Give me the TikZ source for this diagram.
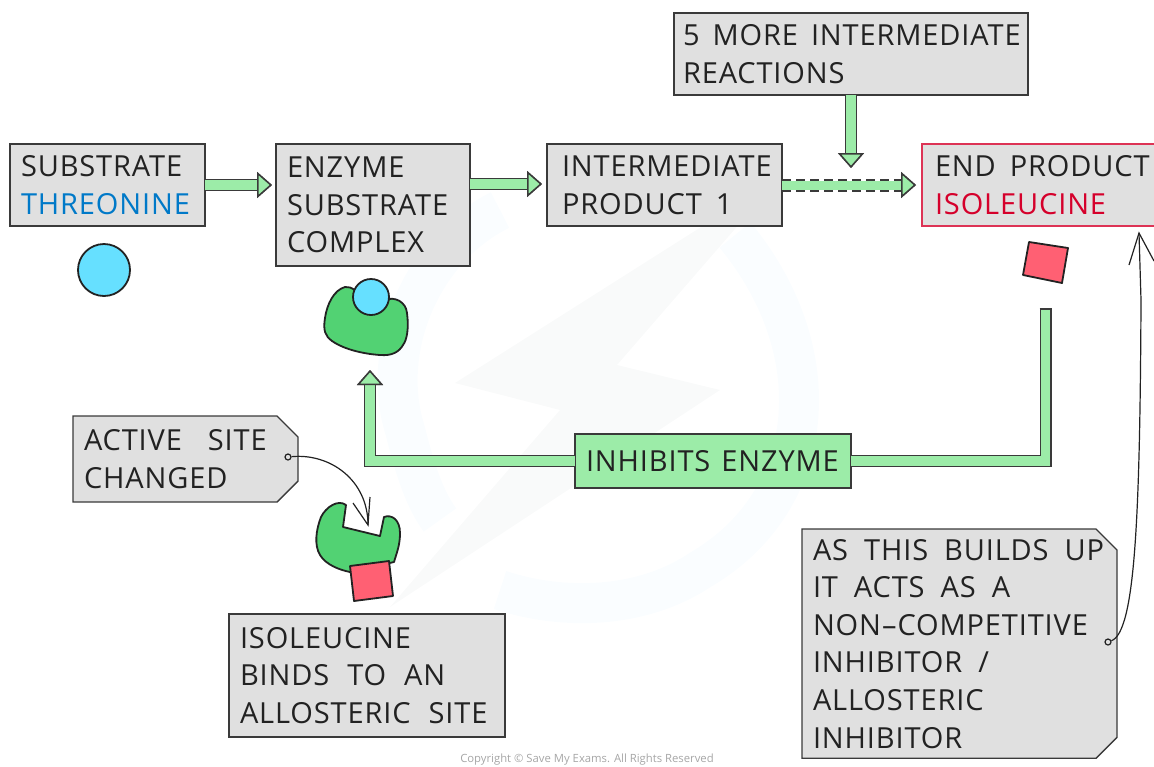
\documentclass[tikz,border=0pt]{standalone}
\usepackage{fontspec}
\usetikzlibrary{arrows.meta,shapes.misc}
\setmainfont{Open Sans}[Scale=1,LetterSpace=3]
\newfontfamily\footfont{Open Sans}
\definecolor{boxgrey}{HTML}{E0E0E0}
\definecolor{boxline}{HTML}{3A3A3A}
\definecolor{arrowgreen}{HTML}{9CECA8}
\definecolor{blobgreen}{HTML}{52D273}
\definecolor{subcyan}{HTML}{66E0FF}
\definecolor{inhred}{HTML}{FF6073}
\definecolor{txtblue}{HTML}{0079C8}
\definecolor{txtred}{HTML}{D5002B}
\definecolor{ink}{HTML}{222222}
\definecolor{wmring}{HTML}{FAFDFF}
\definecolor{wmbolt}{HTML}{F9FAFA}
\tikzset{
  x=1pt,y=-1pt,
  lbl/.style={font=\fontsize{29}{37.6}\selectfont,text=ink,align=left,anchor=north west,inner sep=0pt,outer sep=0pt,execute at begin node={\hyphenpenalty=10000\relax\tolerance=10000\relax\hfuzz=100pt\relax\spaceskip=20pt\relax}},
  greybox/.style={lbl,draw=boxline,line width=1.4pt,fill=boxgrey,rectangle,inner xsep=11pt},
  tagbox/.style={greybox,chamfered rectangle,chamfered rectangle corners={north east,south east},chamfered rectangle xsep=11pt,chamfered rectangle ysep=10pt,inner xsep=0pt},
  blockarrow/.style={draw=arrowgreen,line width=9.5pt,
     preaction={draw=boxline,line width=12pt},
     -{Triangle[length=15pt,width=26pt,fill=arrowgreen,color=boxline,line width=1.5pt]}},
  blob/.style={draw=ink,line width=1.8pt,fill=blobgreen,line join=round},
  ball/.style={circle,draw=ink,line width=1.8pt,fill=subcyan,inner sep=0pt},
  inhibitor/.style={draw=ink,line width=1.8pt,fill=inhred,line join=round},
  pin/.style={circle,draw=ink,line width=1.2pt,inner sep=0pt,minimum size=6pt},
  callout/.style={draw=ink,line width=1.2pt,line join=miter},
}
\begin{document}
\begin{tikzpicture}
\useasboundingbox (0,0) rectangle (1154,766);
\clip (0,0) rectangle (1154,766);
% watermark
\draw[wmring,line width=40pt] (735,235) .. controls (830,350) and (820,500) .. (700,570) .. controls (640,610) and (560,610) .. (500,590);
\draw[wmring,line width=40pt] (500,210) .. controls (420,250) and (380,350) .. (405,430) .. controls (415,470) and (425,500) .. (440,520);
\fill[wmbolt] (455,383) -- (780,177) -- (617,365) -- (720,390) -- (390,607) -- (560,410) -- cycle;
% boxes
\node[greybox,minimum width=195pt,minimum height=82pt,text width=173pt] (sub) at (10,144) {SUBSTRATE\\\textcolor{txtblue}{THREONINE}};
\node[greybox,minimum width=194pt,minimum height=122pt,text width=172pt] (esc) at (276,144) {ENZYME\\SUBSTRATE\\COMPLEX};
\node[greybox,minimum width=235pt,minimum height=82pt,text width=205pt,inner xsep=15pt] (int) at (547,144) {\spaceskip=14pt\relax INTERMEDIATE\\PRODUCT 1};
\node[greybox,minimum width=354pt,minimum height=82pt,text width=336pt,inner xsep=9pt] (more) at (674,13) {\spaceskip=13pt\relax 5 MORE INTERMEDIATE\\REACTIONS};
\node[greybox,draw=txtred!80,minimum width=245pt,minimum height=82pt,text width=219pt,inner xsep=13pt] (endp) at (922,144) {\spaceskip=14pt\relax END PRODUCT\\\textcolor{txtred}{ISOLEUCINE}};
\node[greybox,fill=arrowgreen,minimum width=276pt,minimum height=54pt,text width=254pt] (inh) at (575,434) {\spaceskip=11pt\relax INHIBITS ENZYME};
\node[tagbox,minimum width=225pt,minimum height=86pt,text width=203pt] (act) at (73,416) {\spaceskip=26pt\relax ACTIVE SITE\\CHANGED};
\node[greybox,minimum width=276pt,minimum height=123pt,text width=254pt] (iso) at (229,614) {\spaceskip=18pt\relax ISOLEUCINE\\BINDS TO AN\\ALLOSTERIC SITE};
\node[tagbox,minimum width=315pt,minimum height=227pt,text width=293pt] (build) at (802,529) {\spaceskip=16pt\relax AS THIS BUILDS UP\\IT ACTS AS A\\NON{\kern1pt}–{\kern1pt}COMPETITIVE\\INHIBITOR /\\ALLOSTERIC\\INHIBITOR};
% molecules
\node[ball,minimum size=52pt] (thr) at (104,270) {};
\draw[blob] (345,287) .. controls (352,286) and (358,292) .. (362,300) -- (385,300)
  .. controls (395,296) and (406,302) .. (407,313) .. controls (409,328) and (407,340) .. (403,345)
  .. controls (399,352) and (392,356) .. (380,355) .. controls (365,354) and (345,350) .. (332,341)
  .. controls (325,336) and (323,330) .. (325,318) .. controls (327,304) and (334,290) .. (345,287) -- cycle;
\node[ball,minimum size=36pt] (thr2) at (371,297) {};
\draw[blob] (343,527) -- (380,536) -- (384,517) .. controls (392,514) and (400,520) .. (400,533)
  .. controls (400,545) and (397,552) .. (394,562) -- (350,572)
  .. controls (340,570) and (326,565) .. (320,555) .. controls (314,545) and (316,530) .. (321,517)
  .. controls (326,507) and (338,499) .. (346,505) -- cycle;
\draw[inhibitor] (350,566) -- (389,561) -- (393,596) -- (354,601) -- cycle;
\draw[inhibitor] (1029,242) -- (1068,248) -- (1062,283) -- (1023,275) -- cycle;
% block arrows
\coordinate (a1) at (272,185);
\coordinate (a2) at (542,184);
\coordinate (a3) at (916,185);
\coordinate (a4) at (851,168);
\coordinate (a5) at (1045.5,309);
\coordinate (a6) at (1045.5,461);
\coordinate (a7) at (370,461);
\coordinate (a8) at (370,370);
\draw[blockarrow] (sub.east |- a1) -- (a1);
\draw[blockarrow] (esc.east |- a2) -- (a2);
\draw[draw=arrowgreen,line width=9pt,-{Triangle[length=15pt,width=26pt,fill=arrowgreen,color=boxline,line width=1.5pt]},
  preaction={draw=boxline,line width=13pt,dash pattern=on 9pt off 5pt}] (int.east |- a3) -- (a3);
\draw[blockarrow] (more.south -| a4) -- (a4);
\draw[blockarrow] (inh.west |- a7) -- (a7) -- (a8);
\draw[draw=arrowgreen,line width=9.5pt,preaction={draw=boxline,line width=12pt}] (inh.east |- a6) -- (a6) -- (a5);
\draw[boxline,line width=1.2pt] ([xshift=-6pt]a5) -- ([xshift=6pt]a5);
% callouts
\node[pin] (p1) at (288,457) {};
\coordinate (c1) at (368,525);
\coordinate (b1a) at (353,503);
\coordinate (b1b) at (370,497);
\draw[callout] (p1) .. controls (330,453) and (368,480) .. (c1);
\draw[callout] (b1a) -- (c1) -- (b1b);
\node[pin] (p2) at (1108,642) {};
\coordinate (c2) at (1139,233);
\coordinate (b2a) at (1129,265);
\coordinate (b2b) at (1154,261);
\draw[callout] (p2) .. controls (1135,632) and (1140,520) .. (1141,300) -- (c2);
\draw[callout] (b2a) -- (c2) -- (b2b);
% footer
\node[font=\footfont\fontsize{11.3}{13}\selectfont,text=black!35,inner sep=0pt] (copy) at (587,760) {Copyright © Save My Exams. All Rights Reserved};
\end{tikzpicture}
\end{document}
